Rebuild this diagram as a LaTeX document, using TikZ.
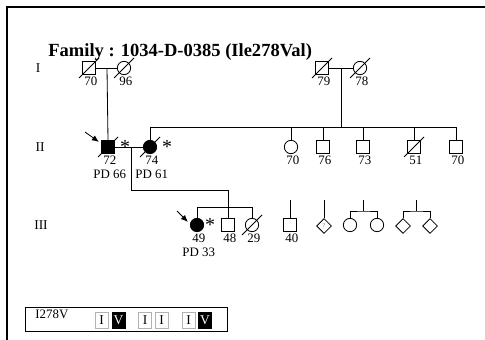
\documentclass[tikz,border=0pt]{standalone}
\usepackage{fontspec}
\setmainfont{Liberation Serif}
\usetikzlibrary{shapes.geometric, arrows.meta}

\begin{document}
\begin{tikzpicture}[x=0.03cm, y=-0.03cm, line width=0.7pt,
    male/.style={draw, rectangle, minimum size=0.4cm, inner sep=0pt},
    female/.style={draw, circle, minimum size=0.4cm, inner sep=0pt},
    unknown/.style={draw, diamond, minimum size=0.45cm, inner sep=0pt},
    affected/.style={fill=black},
    age/.style={label={[font=\fontsize{11}{12.5}\selectfont, align=center, inner sep=1pt, xshift=1.5pt]below:#1}},
    gen/.style={font=\fontsize{11.5}{13}\selectfont},
    carrier/.style={font=\fontsize{17}{17}\selectfont, inner sep=0pt},
    allele/.style={draw=black!30, line width=0.5pt, minimum width=0.38cm, minimum height=0.48cm, inner sep=0pt, font=\fontsize{11.5}{13}\selectfont},
    mutant/.style={allele, fill=black, text=white, draw=black}]
        \useasboundingbox (0,0) rectangle (485,339);
        \draw[line width=1.6pt] (7,345) -- (7,7) -- (490,7);
        \node[anchor=base west, inner sep=0pt, font=\fontsize{15.8}{18}\selectfont\bfseries] (title) at (48,56) {Family : 1034-D-0385 (Ile278Val)};
        % generations
        \node[gen] (g1) at (38,68) {I};
        \node[gen] (g2) at (40,147) {II};
        \node[gen] (g3) at (41,225) {III};
        % generation I
        \node[male, age=70] (i1) at (89,68) {};
        \node[female, age=96] (i2) at (124,68) {};
        \node[male, age=79] (i3) at (322,68) {};
        \node[female, age=78] (i4) at (360,68) {};
        % generation II
        \node[male, affected, age={72\\PD 66}] (ii1) at (108,147) {};
        \node[female, affected, age={74\\PD 61}] (ii2) at (150,147) {};
        \node[female, age=70] (ii3) at (291,147) {};
        \node[male, age=76] (ii4) at (323,147) {};
        \node[male, age=73] (ii5) at (363,147) {};
        \node[male, age=51] (ii6) at (414,147) {};
        \node[male, age=70] (ii7) at (456,147) {};
        % generation III
        \node[female, affected, age={49\\PD 33}] (iii1) at (197,225) {};
        \node[male, age=48] (iii2) at (228,225) {};
        \node[female, age=29] (iii3) at (252,225) {};
        \node[male, age=40] (iii4) at (290,225) {};
        \node[unknown, font=\fontsize{5}{5}\selectfont, text=black!60] (iii5) at (324,226) {?};
        \node[female] (iii6) at (350,225) {};
        \node[female] (iii7) at (377,225) {};
        \node[unknown] (iii8) at (403,226) {};
        \node[unknown] (iii9) at (430,226) {};
        \foreach \a/\b in {i1/i2,i3/i4,ii1/ii2} \draw (\a) -- (\b);
        \foreach \n in {i1,i2,i3,i4,ii1,ii2,ii6,iii3}
            \draw ([shift={(-10,10)}]\n.center) -- ([shift={(10,-10)}]\n.center);
        % lines of descent
        \coordinate (m1) at (107,68);
        \coordinate (m2) at (341,68);
        \coordinate (m3) at (131,147);
        \coordinate (s2) at (341,127);
        \coordinate (k1) at (228,190);
        \draw (m1) -- (ii1.north);
        \draw (m2) -- (s2);
        \draw (ii2.north) |- (ii7.north |- s2) -- (ii7.north);
        \foreach \c in {ii3,ii4,ii5,ii6} \draw (\c.north) -- (\c.north |- s2);
        \draw (m3) |- (k1) -- (iii2.north);
        \draw (iii1.north) -- ++(0,-11) -| (iii3.north);
        % loose sibships
        \coordinate (t1) at (290,200);
        \coordinate (t2) at (324,200);
        \coordinate (t3) at (363.5,200);
        \coordinate (t4) at (416.5,200);
        \coordinate (b3) at (363.5,211);
        \coordinate (b4) at (416.5,211);
        \draw (t1) -- (iii4.north);
        \draw (t2) -- (iii5.north);
        \draw (t3) -- (b3);
        \draw (t4) -- (b4);
        \draw (iii6.north) |- (b3) -| (iii7.north);
        \draw (iii8.north) |- (b4) -| (iii9.north);
        % carriers and probands
        \node[carrier] (c1) at (125,147) {*};
        \node[carrier] (c2) at (167,147) {*};
        \node[carrier] (c3) at (210,225) {*};
        \coordinate (p1) at (85,132);
        \coordinate (p2) at (177,211);
        \draw[-{Latex[length=6pt,width=5pt]}] (p1) -- ([shift={(-2,2)}]ii1.north west);
        \draw[-{Latex[length=6pt,width=5pt]}] (p2) -- ([shift={(-2,-3)}]iii1.west);
        % genotypes
        \node[draw, line width=0.5pt, minimum width=6.06cm, minimum height=0.72cm] (key) at (126,319) {};
        \node[font=\fontsize{11}{12}\selectfont, anchor=base west, inner sep=0pt] (snp) at (35,318.5) {I278V};
        \node[allele] (a1) at (101.5,320) {I};
        \node[mutant] (a2) at (118.5,320) {V};
        \node[allele] (a3) at (145,320) {I};
        \node[allele] (a4) at (161.5,320) {I};
        \node[allele] (a5) at (188.5,320) {I};
        \node[mutant] (a6) at (205,320) {V};
\end{tikzpicture}
\end{document}
